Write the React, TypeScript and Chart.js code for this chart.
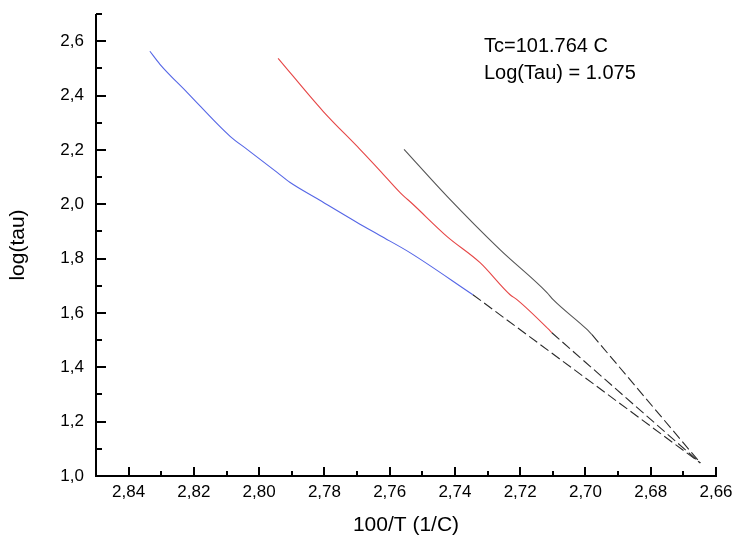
import React, { useEffect, useRef } from 'react';
import { Chart, registerables } from 'chart.js';

Chart.register(...registerables);

const FONT = '"Liberation Sans", Arial, Helvetica, sans-serif';

// Blue curve (solid)
const blueX = [2.8335, 2.8304, 2.8221, 2.8089, 2.8037, 2.7945, 2.7905, 2.7823, 2.77, 2.763, 2.7538, 2.7345];
const blueY = [2.563, 2.515, 2.412, 2.25, 2.202, 2.117, 2.08, 2.021, 1.933, 1.885, 1.822, 1.667];
// Red curve (solid)
const redX = [2.7942, 2.7804, 2.7691, 2.763, 2.7568, 2.7528, 2.7424, 2.7323, 2.7231, 2.721, 2.7115, 2.7103];
const redY = [2.537, 2.342, 2.202, 2.124, 2.043, 1.999, 1.881, 1.785, 1.667, 1.649, 1.542, 1.527];
// Black curve (solid)
const blackX = [2.7556, 2.7424, 2.7262, 2.7118, 2.7099, 2.6998, 2.698];
const blackY = [2.202, 2.029, 1.833, 1.675, 1.649, 1.542, 1.52];
// Common convergence point of the dashed extrapolations
const convergeX = 2.6648;
const convergeY = 1.048;

const xMin = 2.66;
const xMax = 2.85;
const yMin = 1.0;
const yMax = 2.7;

const annotationLines = ['Tc=101.764 C', 'Log(Tau) = 1.075'];
const xTitle = '100/T (1/C)';
const yTitle = 'log(tau)';

const toPts = (xs: number[], ys: number[]) => xs.map((x, i) => ({ x, y: ys[i] }));
const extension = (xs: number[], ys: number[]) => [
  { x: xs[xs.length - 1], y: ys[ys.length - 1] },
  { x: convergeX, y: convergeY },
];

const axesPlugin = {
  id: 'inwardAxes',
  afterDraw(chart: any) {
    const { ctx, chartArea: a, scales } = chart;
    const xs = scales.x;
    const ys = scales.y;
    ctx.save();
    ctx.strokeStyle = '#000';
    ctx.lineWidth = 2;
    ctx.lineCap = 'butt';
    ctx.beginPath();
    ctx.moveTo(a.left, a.top);
    ctx.lineTo(a.left, a.bottom + 1);
    ctx.moveTo(a.left - 1, a.bottom);
    ctx.lineTo(a.right + 1, a.bottom);
    ctx.stroke();
    ys.ticks.forEach((t: any) => {
      const py = Math.round(ys.getPixelForValue(t.value));
      const major = Math.round(t.value * 10) % 2 === 0;
      ctx.beginPath();
      ctx.moveTo(a.left, py);
      ctx.lineTo(a.left + (major ? 10 : 6), py);
      ctx.stroke();
    });
    xs.ticks.forEach((t: any) => {
      const px = Math.round(xs.getPixelForValue(t.value));
      const major = Math.round(t.value * 100) % 2 === 0;
      ctx.beginPath();
      ctx.moveTo(px, a.bottom);
      ctx.lineTo(px, a.bottom - (major ? 9 : 5));
      ctx.stroke();
    });
    ctx.fillStyle = '#000';
    ctx.font = `20px ${FONT}`;
    ctx.textAlign = 'left';
    ctx.textBaseline = 'alphabetic';
    annotationLines.forEach((line, i) => {
      ctx.fillText(line, 484, 52 + i * 27);
    });
    ctx.restore();
  },
};

export default function App() {
  const canvasRef = useRef<HTMLCanvasElement | null>(null);

  useEffect(() => {
    document.body.style.margin = '0';
    const canvas = canvasRef.current;
    if (!canvas) return;
    const solid = (data: any[], color: string) => ({
      data,
      borderColor: color,
      backgroundColor: color,
      borderWidth: 1.1,
      pointRadius: 0,
      showLine: true,
      cubicInterpolationMode: 'monotone',
      fill: false,
    });
    const dashed = (data: any[]) => ({
      data,
      borderColor: '#2a2a2a',
      backgroundColor: '#2a2a2a',
      borderWidth: 1.1,
      borderDash: [10, 4],
      pointRadius: 0,
      showLine: true,
      tension: 0,
      fill: false,
    });
    const chart = new Chart(canvas, {
      type: 'scatter',
      data: {
        datasets: [
          dashed(extension(blueX, blueY)),
          dashed(extension(redX, redY)),
          dashed(extension(blackX, blackY)),
          solid(toPts(blueX, blueY), '#5566e6'),
          solid(toPts(redX, redY), '#e64646'),
          solid(toPts(blackX, blackY), '#555555'),
        ],
      },
      plugins: [axesPlugin],
      options: {
        responsive: false,
        animation: false,
        devicePixelRatio: 1,
        layout: { padding: { left: 0, right: 18, top: 14, bottom: 0 } },
        plugins: {
          legend: { display: false },
          tooltip: { enabled: false },
        },
        scales: {
          x: {
            type: 'linear',
            reverse: true,
            min: xMin,
            max: xMax,
            grid: { display: false, drawTicks: false, tickLength: 0 },
            border: { display: false },
            ticks: {
              stepSize: 0.01,
              maxTicksLimit: 100,
              autoSkip: false,
              maxRotation: 0,
              padding: 6,
              color: '#000',
              font: { family: FONT, size: 17 },
              callback: (v: any) => {
                const n = Number(v);
                return Math.round(n * 100) % 2 === 0 ? n.toFixed(2).replace('.', ',') : '';
              },
            },
            title: {
              display: true,
              text: xTitle,
              color: '#000',
              font: { family: FONT, size: 21 },
              padding: { top: 0, bottom: 4 },
            },
            afterFit: (scale: any) => {
              scale.height = 66;
              scale.paddingLeft = 0;
              scale.paddingRight = 0;
            },
          },
          y: {
            type: 'linear',
            min: yMin,
            max: yMax,
            grid: { display: false, drawTicks: false, tickLength: 0 },
            border: { display: false },
            ticks: {
              stepSize: 0.1,
              maxTicksLimit: 100,
              autoSkip: false,
              padding: 12,
              color: '#000',
              font: { family: FONT, size: 17 },
              callback: (v: any) => {
                const n = Number(v);
                return Math.round(n * 10) % 2 === 0 ? n.toFixed(1).replace('.', ',') : '';
              },
            },
            title: {
              display: true,
              text: yTitle,
              color: '#000',
              font: { family: FONT, size: 21 },
              padding: { top: 6, bottom: 0 },
            },
            afterFit: (scale: any) => {
              scale.width = 96;
              scale.paddingTop = 0;
              scale.paddingBottom = 0;
            },
          },
        },
      } as any,
    });
    return () => chart.destroy();
  }, []);

  return (
    <div style={{ width: 734, height: 542, background: '#fff' }}>
      <canvas ref={canvasRef} width={734} height={542} style={{ display: 'block' }} />
    </div>
  );
}
